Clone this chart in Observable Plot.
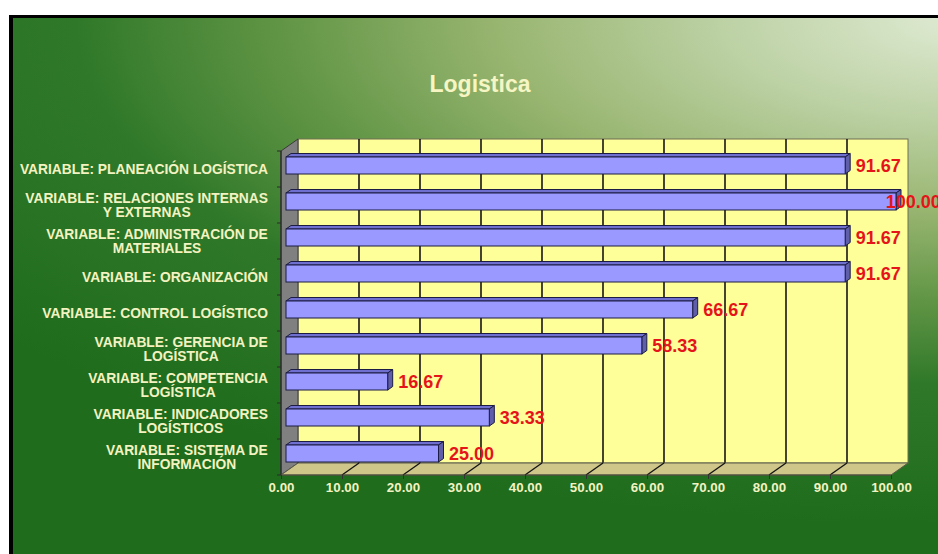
<!DOCTYPE html>
<html>
<head>
<meta charset="utf-8">
<script src="https://cdn.jsdelivr.net/npm/d3@7"></script>
<script src="https://cdn.jsdelivr.net/npm/@observablehq/plot@0.6"></script>
<style>
  html, body { margin: 0; padding: 0; background: #fff; }
  #wrap { position: relative; width: 938px; height: 554px; overflow: hidden; background: #fff; font-family: "Liberation Sans", Arial, sans-serif; }
  #bg { position: absolute; left: 9px; top: 15px; right: -30px; bottom: -30px;
        border-left: 4px solid #000; border-top: 3px solid #000;
        background: radial-gradient(ellipse 130% 90% at 100% 0%, #e0ebd4 0%, #bcd1a4 20%, #98b570 38%, #5f9444 56%, #2f7829 72%, #1f6c1d 100%); }
  #title { position: absolute; left: 380px; width: 200px; top: 71px; line-height: 26px; text-align: center;
           font-size: 23px; font-weight: bold; color: #f6f6c4; }
  #chart { position: absolute; left: 0; top: 0; }
</style>
</head>
<body>
<div id="wrap">
  <div id="bg"></div>
  <div id="title">Logistica</div>
  <div id="chart"></div>
</div>
<script>
const categories = [
  "VARIABLE: PLANEACIÓN LOGÍSTICA",
  "VARIABLE: RELACIONES INTERNAS\nY EXTERNAS",
  "VARIABLE: ADMINISTRACIÓN DE\nMATERIALES",
  "VARIABLE: ORGANIZACIÓN",
  "VARIABLE: CONTROL LOGÍSTICO",
  "VARIABLE: GERENCIA DE\nLOGÍSTICA",
  "VARIABLE: COMPETENCIA\nLOGÍSTICA",
  "VARIABLE: INDICADORES\nLOGÍSTICOS",
  "VARIABLE: SISTEMA DE\nINFORMACIÓN"
];
const values = [91.67, 100.00, 91.67, 91.67, 66.67, 58.33, 16.67, 33.33, 25.00];
const xTicks = [0, 10, 20, 30, 40, 50, 60, 70, 80, 90, 100];
const xDomain = [0, 100];

const data = categories.map((c, i) => ({category: c, value: values[i]}));

// 3D geometry (pixels)
const DEPTH_X = 17, DEPTH_Y = -12;   // wall depth
const BAR_X = 5, BAR_Y = -3.5;       // bar offset / bar depth
const BAR_H = 17;
const cream = "#f3f3c2";
const LABEL_FONT = 13.8, LABEL_LINE = 14, LABEL_PAD = 13;

function scene(index, scales, vals, dims) {
  const x = scales.x, y = scales.y;
  const n = categories.length;
  const bw = y.bandwidth ? y.bandwidth() : (dims.height - dims.marginTop - dims.marginBottom) / n;
  const x0 = x(xDomain[0]), x1 = x(xDomain[1]);
  const top = y(categories[0]), bot = y(categories[n - 1]) + bw;
  const g = d3.create("svg:g");
  const poly = (pts) => pts.map(p => p.join(",")).join(" ");

  g.append("rect")
    .attr("x", x0 + DEPTH_X).attr("y", top + DEPTH_Y)
    .attr("width", x1 - x0).attr("height", bot - top)
    .attr("fill", "#ffff99").attr("stroke", "#6e6e55").attr("stroke-width", 1);
  for (const t of xTicks.slice(1, -1)) {
    g.append("line")
      .attr("x1", x(t) + DEPTH_X).attr("x2", x(t) + DEPTH_X)
      .attr("y1", top + DEPTH_Y).attr("y2", bot + DEPTH_Y)
      .attr("stroke", "#151515").attr("stroke-width", 1.6);
  }
  g.append("polygon")
    .attr("points", poly([[x0, top], [x0 + DEPTH_X, top + DEPTH_Y], [x0 + DEPTH_X, bot + DEPTH_Y], [x0, bot]]))
    .attr("fill", "#808080").attr("stroke", "#3a3a3a").attr("stroke-width", 1);
  g.append("polygon")
    .attr("points", poly([[x0, bot], [x1, bot], [x1 + DEPTH_X, bot + DEPTH_Y], [x0 + DEPTH_X, bot + DEPTH_Y]]))
    .attr("fill", "#cfc78a").attr("stroke", "#5a5a4a").attr("stroke-width", 1);
  for (const t of xTicks.slice(1, -1)) {
    g.append("line")
      .attr("x1", x(t)).attr("y1", bot)
      .attr("x2", x(t) + DEPTH_X).attr("y2", bot + DEPTH_Y)
      .attr("stroke", "#151515").attr("stroke-width", 1.4);
  }
  g.append("line").attr("x1", x0).attr("x2", x0).attr("y1", top).attr("y2", bot)
    .attr("stroke", "#2a2a2a").attr("stroke-width", 1.2);
  g.append("line").attr("x1", x0).attr("x2", x1).attr("y1", bot).attr("y2", bot)
    .attr("stroke", "#4a4a3a").attr("stroke-width", 1.2);
  for (let k = 0; k <= n; k++) {
    const yy = top + k * bw;
    g.append("line").attr("x1", x0 - 4).attr("x2", x0).attr("y1", yy).attr("y2", yy)
      .attr("stroke", "#2a2a2a").attr("stroke-width", 1);
  }
  for (const d of data) {
    const cy = y(d.category) + bw / 2 + BAR_Y;
    const fy1 = cy - BAR_H / 2, fy2 = cy + BAR_H / 2;
    const xa = x0 + BAR_X, xb = x(d.value) + BAR_X;
    g.append("polygon")
      .attr("points", poly([[xa, fy1], [xb, fy1], [xb + BAR_X, fy1 + BAR_Y], [xa + BAR_X, fy1 + BAR_Y]]))
      .attr("fill", "#6f6fcf").attr("stroke", "#1c1c44").attr("stroke-width", 1);
    g.append("polygon")
      .attr("points", poly([[xb, fy1], [xb + BAR_X, fy1 + BAR_Y], [xb + BAR_X, fy2 + BAR_Y], [xb, fy2]]))
      .attr("fill", "#5e5eaa").attr("stroke", "#1c1c44").attr("stroke-width", 1);
  }
  return g.node();
}

// category labels: block right-aligned to the axis, lines centred within the block
const measureCtx = document.createElement("canvas").getContext("2d");
function categoryLabels(index, scales, vals, dims) {
  const x = scales.x, y = scales.y;
  const bw = y.bandwidth ? y.bandwidth() : (dims.height - dims.marginTop - dims.marginBottom) / categories.length;
  const right = x(xDomain[0]) - LABEL_PAD;
  measureCtx.font = `bold ${LABEL_FONT}px "Liberation Sans", Arial, sans-serif`;
  const g = d3.create("svg:g")
    .attr("font-family", "'Liberation Sans', Arial, sans-serif")
    .attr("font-weight", "bold").attr("font-size", LABEL_FONT)
    .attr("fill", cream).attr("text-anchor", "middle");
  for (const c of categories) {
    const lines = c.split("\n");
    const w = Math.max(...lines.map(l => measureCtx.measureText(l).width));
    const cx = right - w / 2;
    const cy = y(c) + bw / 2;
    const t = g.append("text").attr("x", cx).attr("y", cy - (lines.length - 1) * LABEL_LINE / 2)
      .attr("dy", "0.35em");
    lines.forEach((l, i) => {
      t.append("tspan").attr("x", cx).attr("dy", i === 0 ? "0.35em" : LABEL_LINE).text(l);
    });
    t.attr("dy", null);
  }
  return g.node();
}

const chart = Plot.plot({
  width: 938,
  height: 554,
  marginLeft: 281,
  marginRight: 47,
  marginTop: 151,
  marginBottom: 79,
  style: "background: transparent; overflow: visible; font-family: 'Liberation Sans', Arial, sans-serif;",
  x: {domain: xDomain, label: null},
  y: {domain: categories, padding: 0, round: false, label: null, axis: null},
  marks: [
    scene,
    Plot.barX(data, {
      x: "value", y: "category",
      dx: BAR_X, dy: BAR_Y,
      insetTop: 9.5, insetBottom: 9.5,
      fill: "#9999ff", stroke: "#1c1c44", strokeWidth: 1
    }),
    Plot.axisX({ticks: xTicks, tickSize: 4, text: null, stroke: "#333", label: null}),
    Plot.axisX({ticks: xTicks, tickSize: 0, tickPadding: 7, tickFormat: d => d.toFixed(2),
      fill: cream, fontWeight: "bold", fontSize: 13.3, label: null}),
    categoryLabels,
    Plot.text(data, {
      x: d => Math.min(d.value, 96.6), y: "category",
      text: d => d.value.toFixed(2),
      dx: 15, dy: BAR_Y, textAnchor: "start",
      fill: "#e5141a", fontWeight: "bold", fontSize: 18
    })
  ]
});
document.getElementById("chart").appendChild(chart);
</script>
</body>
</html>
